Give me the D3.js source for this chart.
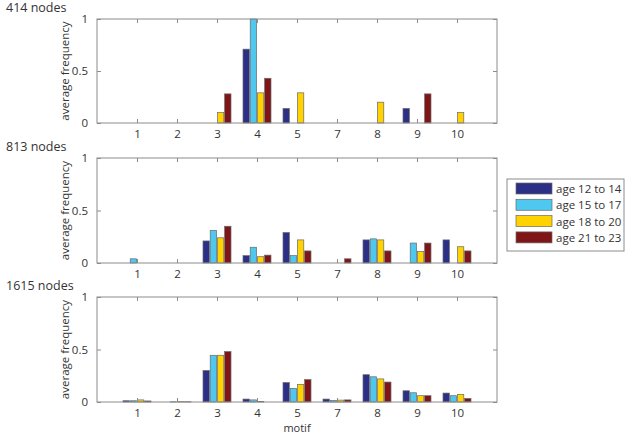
<!DOCTYPE html>
<html>
<head>
<meta charset="utf-8">
<script src="https://cdn.jsdelivr.net/npm/d3@7"></script>
<style>
  body { margin: 0; background: #fff; }
  text { font-family: "Open Sans", "Noto Sans", sans-serif; fill: #333; }
</style>
</head>
<body>
<svg id="chart"></svg>
<script>
const motifs = ["1", "2", "3", "4", "5", "7", "8", "9", "10"];
const ages = ["age 12 to 14", "age 15 to 17", "age 18 to 20", "age 21 to 23"];
const colors = ["#2b3086", "#4ec8ee", "#ffd200", "#7f1517"];
const yTicks = [0, 0.5, 1];

// one array per age group, one value per motif
const nodes414 = [
    [0, 0, 0, 0.71, 0.14, 0, 0, 0.14, 0],
    [0, 0, 0, 1.0, 0, 0, 0, 0, 0],
    [0, 0, 0.1, 0.29, 0.29, 0, 0.2, 0, 0.1],
    [0, 0, 0.28, 0.43, 0, 0, 0, 0.28, 0]
];
const nodes813 = [
    [0, 0, 0.21, 0.07, 0.29, 0, 0.22, 0, 0.22],
    [0.04, 0, 0.31, 0.15, 0.07, 0, 0.23, 0.19, 0],
    [0, 0, 0.24, 0.06, 0.22, 0, 0.22, 0.11, 0.155],
    [0, 0, 0.35, 0.075, 0.115, 0.04, 0.115, 0.19, 0.115]
];
const nodes1615 = [
    [0.012, 0, 0.3, 0.028, 0.185, 0.028, 0.26, 0.107, 0.085],
    [0.012, 0.002, 0.445, 0.02, 0.13, 0.015, 0.24, 0.088, 0.06],
    [0.02, 0.003, 0.445, 0.005, 0.167, 0.018, 0.22, 0.06, 0.072],
    [0.01, 0.002, 0.48, 0, 0.213, 0.02, 0.19, 0.06, 0.034]
];

const panels = [
    { title: "414 nodes", data: nodes414, top: 19, bottom: 123 },
    { title: "813 nodes", data: nodes813, top: 158, bottom: 263 },
    { title: "1615 nodes", data: nodes1615, top: 297, bottom: 402 }
];

const width = 629;
const height = 435;
const left = 97, right = 497;

const svg = d3.select("#chart")
    .attr("width", width)
    .attr("height", height);

const xScale = d3.scaleLinear()
    .domain([0, 10])
    .range([left, right]);

const subScale = d3.scaleBand()
    .domain(d3.range(ages.length))
    .range([-14, 14])
    .paddingInner(0.12);

panels.forEach((p, pi) => {
    const g = svg.append("g");

    const yScale = d3.scaleLinear()
        .domain([0, 1])
        .range([p.bottom, p.top]);

    // title
    g.append("text")
        .attr("x", 6)
        .attr("y", p.top - 7)
        .attr("font-size", "12.5px")
        .text(p.title);

    // bars
    p.data.forEach((series, si) => {
        g.selectAll(".bar" + si)
            .data(series.map((v, i) => ({ v, i })).filter(d => d.v > 0))
            .join("rect")
            .attr("x", d => xScale(d.i + 1) + subScale(si))
            .attr("y", d => yScale(d.v))
            .attr("width", subScale.bandwidth())
            .attr("height", d => yScale(0) - yScale(d.v))
            .attr("fill", colors[si])
            .attr("stroke", "#6a6a6a")
            .attr("stroke-width", 0.7);
    });

    // box
    g.append("rect")
        .attr("x", left)
        .attr("y", p.top)
        .attr("width", right - left)
        .attr("height", p.bottom - p.top)
        .attr("fill", "none")
        .attr("stroke", "#8c8c8c")
        .attr("stroke-width", 1);

    // x axis (bottom, ticks inward) and mirror on top
    g.append("g")
        .attr("transform", `translate(0,${p.bottom})`)
        .call(d3.axisBottom(xScale)
            .tickValues(d3.range(1, motifs.length + 1))
            .tickFormat(i => motifs[i - 1])
            .tickSizeInner(-4)
            .tickSizeOuter(0)
            .tickPadding(7))
        .call(a => a.select(".domain").remove())
        .call(a => a.selectAll("line").attr("stroke", "#8c8c8c"))
        .call(a => a.selectAll("text").attr("font-size", "11.5px").attr("fill", "#333"));

    g.append("g")
        .attr("transform", `translate(0,${p.top})`)
        .call(d3.axisTop(xScale)
            .tickValues(d3.range(1, motifs.length + 1))
            .tickFormat("")
            .tickSizeInner(-4)
            .tickSizeOuter(0))
        .call(a => a.select(".domain").remove())
        .call(a => a.selectAll("line").attr("stroke", "#8c8c8c"));

    // y axis
    g.append("g")
        .attr("transform", `translate(${left},0)`)
        .call(d3.axisLeft(yScale)
            .tickValues(yTicks)
            .tickFormat(d3.format("~g"))
            .tickSizeInner(-4)
            .tickSizeOuter(0)
            .tickPadding(9))
        .call(a => a.select(".domain").remove())
        .call(a => a.selectAll("line").attr("stroke", "#8c8c8c"))
        .call(a => a.selectAll("text").attr("font-size", "11.5px").attr("fill", "#333"));

    g.append("g")
        .attr("transform", `translate(${right},0)`)
        .call(d3.axisRight(yScale)
            .tickValues(yTicks)
            .tickFormat("")
            .tickSizeInner(-4)
            .tickSizeOuter(0))
        .call(a => a.select(".domain").remove())
        .call(a => a.selectAll("line").attr("stroke", "#8c8c8c"));

    // y label
    g.append("text")
        .attr("transform", `translate(69,${(p.top + p.bottom) / 2}) rotate(-90)`)
        .attr("text-anchor", "middle")
        .attr("font-size", "11.5px")
        .text("average frequency");

    if (pi === panels.length - 1) {
        g.append("text")
            .attr("x", xScale(5))
            .attr("y", p.bottom + 30)
            .attr("text-anchor", "middle")
            .attr("font-size", "11px")
            .text("motif");
    }
});

// legend
const legend = svg.append("g").attr("transform", "translate(507,179)");
legend.append("rect")
    .attr("width", 117)
    .attr("height", 72)
    .attr("fill", "#fff")
    .attr("stroke", "#8c8c8c");

ages.forEach((a, i) => {
    const row = legend.append("g").attr("transform", `translate(9,${4 + i * 16.3})`);
    row.append("rect")
        .attr("width", 36)
        .attr("height", 11)
        .attr("fill", colors[i])
        .attr("stroke", "#6a6a6a")
        .attr("stroke-width", 0.7);
    row.append("text")
        .attr("x", 40)
        .attr("y", 10)
        .attr("font-size", "11.5px")
        .text(a);
});
</script>
</body>
</html>
